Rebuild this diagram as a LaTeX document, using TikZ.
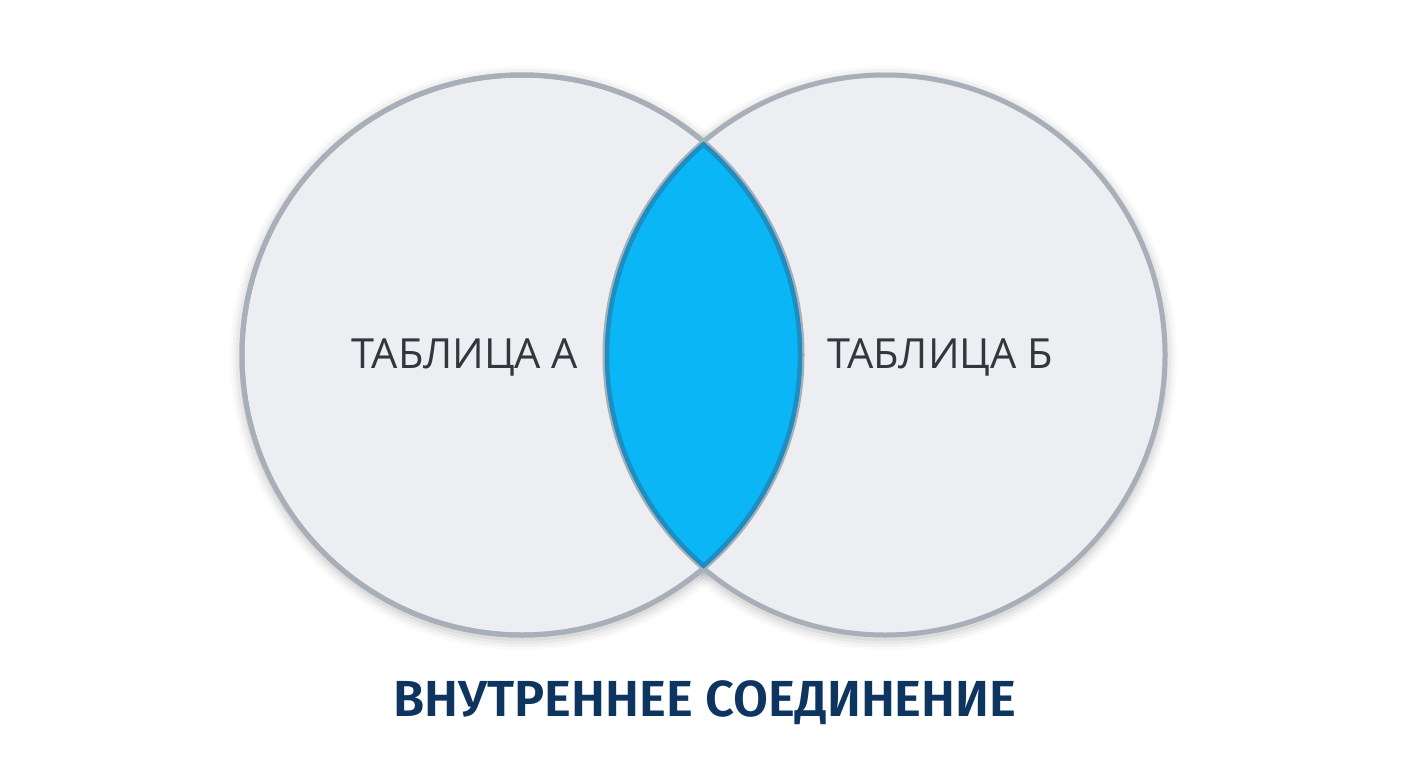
\documentclass[tikz,border=0pt]{standalone}
\usepackage{fontspec}
\setmainfont{Open Sans}
\newfontfamily\titlefont{Fira Sans}[BoldFont={Fira Sans SemiBold}]
\definecolor{circfill}{HTML}{ECEEF1}
\definecolor{circline}{HTML}{A9AFB8}
\definecolor{lensfill}{HTML}{0AB6F5}
\definecolor{lensline}{HTML}{1E8EC2}
\definecolor{labeltext}{HTML}{33373D}
\definecolor{titletext}{HTML}{0E3560}
\tikzset{
  setcircle/.style={circle, minimum size=560pt, inner sep=0pt, fill=circfill, draw=circline, line width=5pt},
  setlabel/.style={font=\fontsize{41.5}{48}\selectfont, text=labeltext},
  titlelabel/.style={font=\titlefont\fontsize{50.7}{60}\selectfont\bfseries, text=titletext},
}
\begin{document}
\begin{tikzpicture}[x=1pt,y=-1pt]
\useasboundingbox[fill=white] (0,0) rectangle (1408,768);
% soft halo
\foreach \r/\o in {292/0.02,289/0.03,286/0.04,283/0.05}{
  \fill[black, opacity=\o] (522,358) circle (\r);
  \fill[black, opacity=\o] (885,358) circle (\r);
}
\node[setcircle] (A) at (522,355) {};
\node[setcircle] (B) at (885,355) {};
\node[setcircle, fill=none] at (A) {};
\begin{scope}
  \clip (522,355) circle (280);
  \fill[lensfill] (885,355) circle (280);
\end{scope}
\begin{scope}
  \clip (522,355) circle (280);
  \draw[lensline, line width=4.5pt] (885,355) circle (278);
\end{scope}
\begin{scope}
  \clip (885,355) circle (280);
  \draw[lensline, line width=4.5pt] (522,355) circle (278);
\end{scope}
\node[setlabel] (la) at (465,357) {ТАБЛИЦА А};
\node[setlabel] (lb) at (940,357) {ТАБЛИЦА Б};
\node[titlelabel] (title) at (705,703) {ВНУТРЕННЕЕ СОЕДИНЕНИЕ};
\end{tikzpicture}
\end{document}
